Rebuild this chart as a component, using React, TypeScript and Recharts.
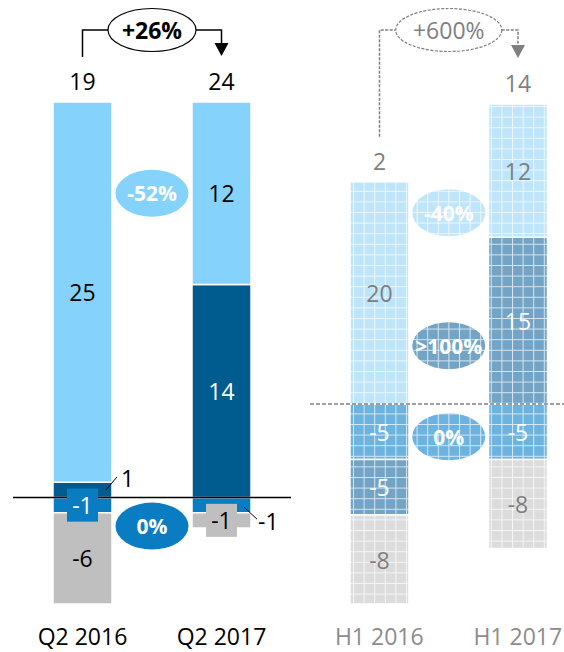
import React from 'react';
import { BarChart, Bar, XAxis, YAxis, ReferenceLine, LabelList } from 'recharts';

const FONT = '"Open Sans", Arial, sans-serif';
const FS = 23;

// left panel: quarter comparison
const quarters = ['Q2 2016', 'Q2 2017'];
const qMid = [-1, -1];
const qDark = [1, 14];
const qLight = [25, 12];
const qGray = [-6, -1];
const qTotals = [19, 24];
const qTotalChange = '+26%';
const qLightChange = '-52%';
const qMidChange = '0%';

// right panel: half-year comparison
const halves = ['H1 2016', 'H1 2017'];
const hMid = [-5, -5];
const hDark = [-5, 15];
const hLight = [20, 12];
const hGray = [-8, -8];
const hTotals = [2, 14];
const hTotalChange = '+600%';
const hLightChange = '-40%';
const hDarkChange = '>100%';
const hMidChange = '0%';

// stacking order: mid sits next to zero, then dark, light on top, gray at the bottom
const SERIES = ['mid', 'dark', 'light', 'gray'];

const GRID = 10.6;
const FADED = [
  { id: 'fMid', color: '#6db3df' },
  { id: 'fDark', color: '#74a4c5' },
  { id: 'fLight', color: '#bfe5fb' },
  { id: 'fGray', color: '#dcdcdc' },
];

const leftLook = {
  fill: { mid: '#0a7dc2', dark: '#005c8f', light: '#85d3fd', gray: '#bfbfbf' },
  ink: { mid: '#fff', dark: '#fff', light: '#000', gray: '#000' },
  modes: { mid: ['box', 'out'], dark: ['out', 'in'], light: ['in', 'in'], gray: ['in', 'box'] },
  outInk: '#000',
  totalInk: '#000',
  line: '#000',
  dash: undefined,
  bold: true,
  half: 69.5,
  rx: 44,
  notes: { light: { text: qLightChange, dy: 0 }, mid: { text: qMidChange, dy: 21 } },
  change: qTotalChange,
};

const rightLook = {
  fill: { mid: 'url(#fMid)', dark: 'url(#fDark)', light: 'url(#fLight)', gray: 'url(#fGray)' },
  ink: { mid: '#fff', dark: '#fff', light: '#7f7f7f', gray: '#7f7f7f' },
  modes: { mid: ['in', 'in'], dark: ['in', 'in'], light: ['in', 'in'], gray: ['in', 'in'] },
  outInk: '#7f7f7f',
  totalInk: '#7f7f7f',
  line: '#7f7f7f',
  dash: '3 1.5',
  bold: false,
  half: 69.25,
  rx: 53,
  notes: {
    light: { text: hLightChange, dy: 42 },
    dark: { text: hDarkChange, dy: 25 },
    mid: { text: hMidChange, dy: 5 },
  },
  change: hTotalChange,
};

function rectOf(p) {
  const vb = p.viewBox && p.viewBox.width !== undefined ? p.viewBox : p;
  let x = Number(vb.x), y = Number(vb.y), w = Number(vb.width), h = Number(vb.height);
  if (h < 0) { y += h; h = -h; }
  return { x, y, w, h };
}

function Txt({ x, y, fill, children, anchor = 'middle', size = FS, bold = false }) {
  return (
    <text x={x} y={y} textAnchor={anchor} dominantBaseline="central" fill={fill}
      fontFamily={FONT} fontSize={size} fontWeight={bold ? 700 : 400}>
      {children}
    </text>
  );
}

function segContent(key, vals, look) {
  return (props) => {
    const i = props.index;
    const v = vals[i];
    const { x, y, w, h } = rectOf(props);
    const cx = x + w / 2;
    const cy = y + h / 2;
    const mode = look.modes[key][i];
    const out = [];
    if (mode === 'in') {
      out.push(<Txt key="t" x={cx} y={cy} fill={look.ink[key]}>{v}</Txt>);
    } else if (mode === 'box') {
      out.push(<rect key="b" x={cx - 15.5} y={cy - 16.5} width={31} height={33} fill={look.fill[key]} />);
      out.push(<Txt key="t" x={cx} y={cy} fill={look.ink[key]}>{v}</Txt>);
    } else {
      const r = x + w;
      if (v > 0) {
        out.push(<line key="l" x1={r - 6} y1={cy} x2={r + 5} y2={cy - 13} stroke="#000" strokeWidth={1} />);
        out.push(<Txt key="t" x={r + 9} y={cy - 12} fill={look.outInk} anchor="start">{v}</Txt>);
      } else {
        out.push(<line key="l" x1={r - 7} y1={cy + 2} x2={r + 6} y2={cy + 14} stroke="#000" strokeWidth={1} />);
        out.push(<Txt key="t" x={r + 7} y={cy + 16} fill={look.outInk} anchor="start">{v}</Txt>);
      }
    }
    const note = look.notes[key];
    if (note && i === 1) {
      const ex = cx - look.half;
      const ey = cy + note.dy;
      out.push(<ellipse key="e" cx={ex} cy={ey} rx={36.5} ry={23.5} fill={look.fill[key]} />);
      out.push(<Txt key="et" x={ex} y={ey} fill="#fff" size={21} bold>{note.text}</Txt>);
    }
    return <g>{out}</g>;
  };
}

function totalContent(totals, look) {
  return (props) => {
    const i = props.index;
    const { x, y, w } = rectOf(props);
    const cx = x + w / 2;
    const ty = y - 21;
    const lineY = 30;
    const out = [<Txt key="t" x={cx} y={ty} fill={look.totalInk}>{totals[i]}</Txt>];
    const stroke = { stroke: look.line, strokeWidth: 1.5, strokeDasharray: look.dash, fill: 'none' };
    if (i === 0) {
      out.push(<path key="p" d={`M${cx},${ty - 24} V${lineY} H${cx + look.half - look.rx}`} {...stroke} />);
    } else {
      const tip = ty - 25;
      const mx = cx - look.half;
      out.push(<path key="p" d={`M${mx + look.rx},${lineY} H${cx} V${tip - 12}`} {...stroke} />);
      out.push(<path key="a" d={`M${cx - 7},${tip - 13} L${cx + 7},${tip - 13} L${cx},${tip} Z`} fill={look.line} />);
      out.push(<ellipse key="e" cx={mx} cy={lineY} rx={look.rx} ry={21.5} {...stroke} fill="#fff" strokeWidth={1.2} />);
      out.push(<Txt key="et" x={mx} y={lineY} fill={look.totalInk} bold={look.bold}>{look.change}</Txt>);
    }
    return <g>{out}</g>;
  };
}

function Panel({ left, width, margin, domain, cats, values, totals, look, zeroLine, tickInk }) {
  const rows = cats.map((name, i) => ({
    name, mid: values.mid[i], dark: values.dark[i], light: values.light[i], gray: values.gray[i],
  }));
  const tick = (p) => (
    <Txt x={p.x} y={p.y + 24} fill={tickInk}>{p.payload.value}</Txt>
  );
  return (
    <div style={{ position: 'absolute', left, top: 0 }}>
      <BarChart width={width} height={652} data={rows} margin={margin} stackOffset="sign" barSize={59}>
        <defs>
          {FADED.map((f) => (
            <pattern key={f.id} id={f.id} width={GRID} height={GRID} patternUnits="userSpaceOnUse">
              <rect width={GRID} height={GRID} fill={f.color} />
              <path d={`M0,0.5 H${GRID} M0.5,0 V${GRID}`} stroke="#fff" strokeOpacity={0.7} strokeWidth={1} />
            </pattern>
          ))}
        </defs>
        <XAxis dataKey="name" axisLine={false} tickLine={false} height={48} interval={0} tick={tick} />
        <XAxis xAxisId="o" dataKey="name" hide />
        <YAxis hide domain={domain} allowDataOverflow type="number" />
        {SERIES.map((k) => (
          <Bar key={k} dataKey={k} stackId="a" fill={look.fill[k]} stroke="#fff" strokeWidth={1.5}
            isAnimationActive={false} />
        ))}
        <ReferenceLine y={0} {...zeroLine} />
        {SERIES.map((k) => (
          <Bar key={'o' + k} xAxisId="o" dataKey={k} stackId="o" fill="transparent" isAnimationActive={false}>
            <LabelList dataKey={k} content={segContent(k, values[k], look)} />
            {k === 'light' && <LabelList dataKey={k} content={totalContent(totals, look)} />}
          </Bar>
        ))}
      </BarChart>
    </div>
  );
}

export default function App() {
  return (
    <div style={{ position: 'absolute', left: 0, top: 0, width: 564, height: 652, overflow: 'hidden', background: '#fff' }}>
      <Panel
        left={0}
        width={291}
        margin={{ top: 102, right: 0, bottom: 0, left: 13 }}
        domain={[-7, 26]}
        cats={quarters}
        values={{ mid: qMid, dark: qDark, light: qLight, gray: qGray }}
        totals={qTotals}
        look={leftLook}
        zeroLine={{ stroke: '#000', strokeWidth: 1.5 }}
        tickInk="#000"
      />
      <Panel
        left={300}
        width={287}
        margin={{ top: 104, right: 0, bottom: 0, left: 10 }}
        domain={[-18, 27]}
        cats={halves}
        values={{ mid: hMid, dark: hDark, light: hLight, gray: hGray }}
        totals={hTotals}
        look={rightLook}
        zeroLine={{ stroke: '#808080', strokeWidth: 1.5, strokeDasharray: '4 2' }}
        tickInk="#8c8c8c"
      />
    </div>
  );
}
